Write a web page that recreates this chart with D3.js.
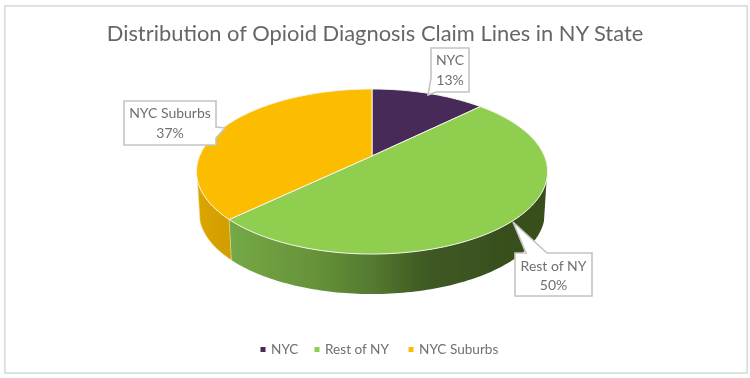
<!DOCTYPE html>
<html>
<head>
<meta charset="utf-8">
<script src="https://cdn.jsdelivr.net/npm/d3@7/dist/d3.min.js"></script>
<style>
  html, body { margin: 0; padding: 0; background: #fff; }
  svg { display: block; }
  text { font-family: Lato, "Open Sans", sans-serif; fill: #707070; }
</style>
</head>
<body>
<div id="chart"></div>
<script>
// share of claim lines
const regions = ["NYC", "Rest of NY", "NYC Suburbs"]
const shares = [12.6, 50.2, 37.2]
const regionColors = ["#472a59", "#8fce50", "#fcbc00"]
const chartTitle = "Distribution of Opioid Diagnosis Claim Lines in NY State"

const width = 750
const height = 378

const slices = d3.pie().sort(null)(shares)
const color = d3.scaleOrdinal().domain(regions).range(regionColors)

const wrapper = d3.select("#chart").append("svg")
    .attr("width", width)
    .attr("height", height)

// gradients along the side wall
const defs = wrapper.append("defs")
function wallGradient(id, x1, x2, stops) {
  defs.append("linearGradient")
      .attr("id", id)
      .attr("gradientUnits", "userSpaceOnUse")
      .attr("x1", x1).attr("x2", x2).attr("y1", 0).attr("y2", 0)
    .selectAll("stop")
    .data(stops)
    .join("stop")
      .attr("offset", d => d[0])
      .attr("stop-color", d => d[1])
}
wallGradient("wall-rest", 232, 500, [[0, "#74a846"], [0.3, "#67933a"], [0.52, "#557a30"], [0.72, "#3f5a22"], [1, "#38501f"]])
wallGradient("wall-suburbs", 197, 235, [[0, "#dca600"], [1, "#cf9c00"]])
defs.append("filter").attr("id", "soft")
    .attr("x", 0).attr("y", 0).attr("width", 1).attr("height", 1)
  .append("feGaussianBlur").attr("stdDeviation", 0.4)

const root = wrapper.append("g").attr("filter", "url(#soft)")

// chart frame
root.append("rect")
    .attr("x", 4.5).attr("y", 5.5)
    .attr("width", 743).attr("height", 368)
    .attr("fill", "#fff")
    .attr("stroke", "#dcdcdc")
    .attr("stroke-width", 2.4)

root.append("text")
    .attr("x", 375).attr("y", 41)
    .attr("text-anchor", "middle")
    .attr("font-size", 21.9)
    .style("fill", "#666666")
    .text(chartTitle)

// tilted disc: perspective projection of the unit circle
const apex = { x: 372, y: 156 }
const tilt = { a: 172.4, b: 79.6, p: 0.188 }
const wallDepth = 41.5
const wallScale = 0.985

function project(angle, scale = 1, drop = 0) {
  const u = Math.sin(angle)
  const v = Math.cos(angle)
  const w = 1 + tilt.p * v
  return [apex.x + scale * tilt.a * u / w, apex.y + drop + scale * tilt.b * v / -w]
}

function arcPoints(start, end, scale, drop) {
  const n = Math.max(2, Math.ceil((end - start) / 0.02))
  return d3.range(n + 1).map(i => project(start + (end - start) * i / n, scale, drop))
}

const line = d3.line()

// side wall, only the part facing the viewer
const wallStart = Math.PI / 2 + Math.asin(tilt.p) + 0.1
const wallEnd = 2 * Math.PI - Math.PI / 2 - Math.asin(tilt.p) - 0.1
const wallIds = [null, "wall-rest", "wall-suburbs"]

slices.forEach((s, i) => {
  const start = Math.max(s.startAngle, wallStart)
  const end = Math.min(s.endAngle, wallEnd)
  if (end <= start) return
  const pts = arcPoints(start, end, 1, 0)
    .concat(arcPoints(start, end, wallScale, wallDepth).reverse())
  root.append("path")
      .attr("d", line(pts) + "Z")
      .attr("fill", `url(#${wallIds[i]})`)
      .attr("stroke", i == 2 ? "#f0d9a0" : "none")
      .attr("stroke-width", 0.6)
})

// top face
root.selectAll(".slice")
  .data(slices)
  .join("path")
    .attr("class", "slice")
    .attr("d", d => line([[apex.x, apex.y]].concat(arcPoints(d.startAngle, d.endAngle, 1, 0))) + "Z")
    .attr("fill", (d, i) => color(regions[i]))
    .attr("stroke", "#f4f4ea")
    .attr("stroke-width", 1)
    .attr("stroke-linejoin", "round")

// callouts, each a box with a tail pointing at its slice
const callouts = [
  { box: [431, 48, 469, 92], tail: [[436, 92], [428, 95], [431, 78]], text: [450, 65, 85] },
  { box: [515, 253, 592, 296], tail: [[547, 253], [513, 222], [526, 253]], text: [553.5, 271, 290] },
  { box: [124, 101, 216, 145], tail: [[216, 127], [225, 128], [216, 138]], text: [170, 118, 138] }
]

function calloutPath(c, i) {
  const [x0, y0, x1, y1] = c.box
  if (i == 0) return line([[x0, y0], [x1, y0], [x1, y1], ...c.tail.slice(0, 3), [x0, y0]]) + "Z"
  if (i == 1) return line([[x0, y0], c.tail[2], c.tail[1], c.tail[0], [x1, y0], [x1, y1], [x0, y1]]) + "Z"
  return line([[x0, y0], [x1, y0], c.tail[0], c.tail[1], c.tail[2], [x1, y1], [x0, y1]]) + "Z"
}

root.selectAll(".callout")
  .data(callouts)
  .join("path")
    .attr("class", "callout")
    .attr("d", calloutPath)
    .attr("fill", "#fff")
    .attr("stroke", "#c4c4c4")
    .attr("stroke-width", 1.6)

callouts.forEach((c, i) => {
  const label = root.append("text")
      .attr("text-anchor", "middle")
      .attr("font-size", 14)
  label.append("tspan").attr("x", c.text[0]).attr("y", c.text[1]).text(regions[i])
  label.append("tspan").attr("x", c.text[0]).attr("y", c.text[2]).text(Math.round(shares[i]) + "%")
})

// legend
const legendX = [263, 317, 411]
const legend = root.selectAll(".legend")
  .data(regions)
  .join("g")
    .attr("class", "legend")
    .attr("transform", (d, i) => `translate(${legendX[i]},349.5)`)

legend.append("rect")
    .attr("x", -2.5).attr("y", -2.5)
    .attr("width", 5).attr("height", 5)
    .attr("fill", d => color(d))

legend.append("text")
    .attr("x", 8)
    .attr("y", 4.5)
    .attr("font-size", 13.6)
    .text(d => d)
</script>
</body>
</html>
